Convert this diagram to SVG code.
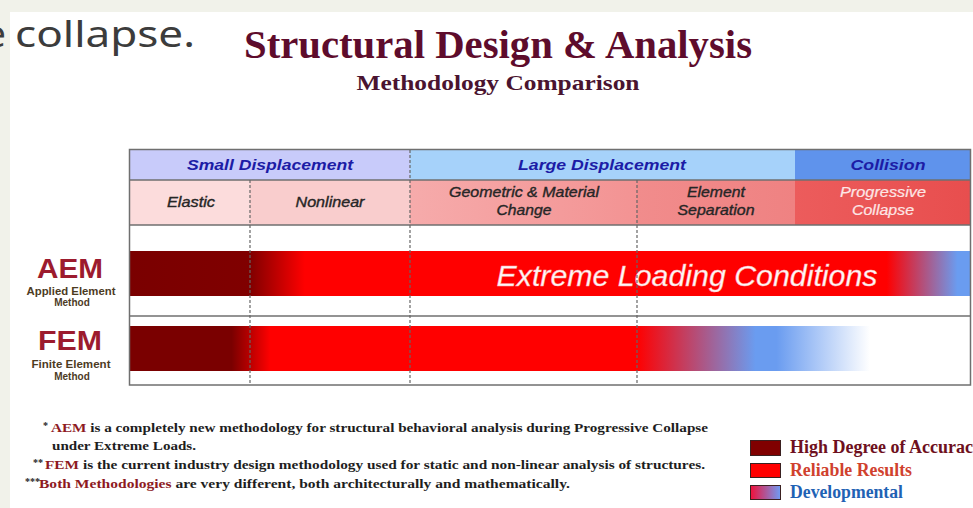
<svg xmlns="http://www.w3.org/2000/svg" width="973" height="508" viewBox="0 0 973 508">
<style>
.hdr{font-family:"Liberation Sans",Arial,sans-serif;font-weight:bold;font-style:italic;font-size:15px;fill:#1c1ca6;text-anchor:middle}
.sub{font-family:"Liberation Sans",Arial,sans-serif;font-style:italic;font-size:14px;fill:#262626;stroke:#262626;stroke-width:0.35;text-anchor:middle}
.subw{fill:#fde6e6;stroke:#fde6e6;stroke-width:0.2}
.big{font-family:"Liberation Sans",Arial,sans-serif;font-weight:bold;font-size:28px;fill:#9c1b2e;text-anchor:middle}
.small{font-family:"Liberation Sans",Arial,sans-serif;font-weight:bold;font-size:10px;fill:#4d3b1f;text-anchor:middle}
.note{font-family:"Liberation Serif","Times New Roman",serif;font-weight:bold;font-size:13.5px;fill:#1e1e1e}
.ast{font-family:"Liberation Serif","Times New Roman",serif;font-weight:bold;font-size:10px;fill:#1e1e1e}
.red{fill:#8e1a1f}
.leg{font-family:"Liberation Serif","Times New Roman",serif;font-weight:bold;font-size:18px}
.grid{stroke:#6f6f6f;stroke-width:1.5;fill:none}
.dash{stroke:#666;stroke-width:1.2;stroke-dasharray:3 2;fill:none}
</style>
<defs>
<linearGradient id="gAEM" gradientUnits="userSpaceOnUse" x1="129" y1="0" x2="970" y2="0">
<stop offset="0" stop-color="#7a0000"/>
<stop offset="0.144" stop-color="#800000"/>
<stop offset="0.209" stop-color="#ff0000"/>
<stop offset="0.901" stop-color="#ff0000"/>
<stop offset="0.985" stop-color="#6a9cf0"/>
<stop offset="1" stop-color="#6a9cf0"/>
</linearGradient>
<linearGradient id="gFEM" gradientUnits="userSpaceOnUse" x1="129" y1="0" x2="970" y2="0">
<stop offset="0" stop-color="#7a0000"/>
<stop offset="0.122" stop-color="#7a0000"/>
<stop offset="0.168" stop-color="#ff0000"/>
<stop offset="0.604" stop-color="#ff0000"/>
<stop offset="0.745" stop-color="#6a9cf0"/>
<stop offset="0.77" stop-color="#6a9cf0"/>
<stop offset="0.881" stop-color="#ffffff"/>
<stop offset="1" stop-color="#ffffff"/>
</linearGradient>
<linearGradient id="gGeo" x1="0" y1="0" x2="1" y2="0">
<stop offset="0" stop-color="#f6abab"/>
<stop offset="1" stop-color="#f39393"/>
</linearGradient>
<linearGradient id="gEl" x1="0" y1="0" x2="1" y2="0">
<stop offset="0" stop-color="#f18c8c"/>
<stop offset="1" stop-color="#ef8282"/>
</linearGradient>
<linearGradient id="gPc" x1="0" y1="0" x2="1" y2="0">
<stop offset="0" stop-color="#ec5c5c"/>
<stop offset="1" stop-color="#e84e4e"/>
</linearGradient>
<linearGradient id="gDev" x1="0" y1="0" x2="1" y2="0">
<stop offset="0" stop-color="#f0103a"/>
<stop offset="1" stop-color="#6f9cf5"/>
</linearGradient>
</defs>

<!-- slide background -->
<rect x="0" y="0" width="973" height="508" fill="#f1f2ea"/>
<rect x="10" y="12" width="963" height="496" fill="#ffffff"/>
<text x="-15" y="47" font-family="'Noto Sans','DejaVu Sans',sans-serif" font-size="37" fill="#3c3c3c">e</text>
<text x="15" y="47" font-family="'Noto Sans','DejaVu Sans',sans-serif" font-size="37" fill="#3c3c3c" textLength="180" lengthAdjust="spacingAndGlyphs">collapse.</text>

<!-- title -->
<g id="title">
<text x="498" y="58" font-family="'Liberation Serif','Times New Roman',serif" font-weight="bold" font-size="39" fill="#5e0c2c" text-anchor="middle" textLength="508" lengthAdjust="spacingAndGlyphs">Structural Design &amp; Analysis</text>
<text x="498" y="90" font-family="'Liberation Serif','Times New Roman',serif" font-weight="bold" font-size="22" fill="#4a1430" text-anchor="middle" textLength="283" lengthAdjust="spacingAndGlyphs">Methodology Comparison</text>
</g>

<!-- header row 1 -->
<g id="hdr-small"><rect x="129" y="150" width="281" height="30" fill="#c8cbfa"/><text class="hdr" x="270" y="170" textLength="166" lengthAdjust="spacingAndGlyphs">Small Displacement</text></g>
<g id="hdr-large"><rect x="410" y="150" width="385" height="30" fill="#a6d2fa"/><text class="hdr" x="602" y="170" textLength="168" lengthAdjust="spacingAndGlyphs">Large Displacement</text></g>
<g id="hdr-collision"><rect x="795" y="150" width="175" height="30" fill="#5f93ec"/><text class="hdr" x="888" y="170" textLength="75" lengthAdjust="spacingAndGlyphs">Collision</text></g>

<!-- header row 2 -->
<g id="sub-elastic"><rect x="129" y="180" width="121" height="45" fill="#fcdcdc"/><text class="sub" x="191" y="207" textLength="48" lengthAdjust="spacingAndGlyphs">Elastic</text></g>
<g id="sub-nonlinear"><rect x="250" y="180" width="160" height="45" fill="#f9cdcd"/><text class="sub" x="330" y="207" textLength="69" lengthAdjust="spacingAndGlyphs">Nonlinear</text></g>
<g id="sub-geometric"><rect x="410" y="180" width="227" height="45" fill="url(#gGeo)"/><text class="sub" x="524" y="197" textLength="150" lengthAdjust="spacingAndGlyphs">Geometric &amp; Material</text><text class="sub" x="524" y="215" textLength="55" lengthAdjust="spacingAndGlyphs">Change</text></g>
<g id="sub-separation"><rect x="637" y="180" width="158" height="45" fill="url(#gEl)"/><text class="sub" x="716" y="197" textLength="58" lengthAdjust="spacingAndGlyphs">Element</text><text class="sub" x="716" y="215" textLength="77" lengthAdjust="spacingAndGlyphs">Separation</text></g>
<g id="sub-progressive"><rect x="795" y="180" width="175" height="45" fill="url(#gPc)"/><text class="sub subw" x="883" y="197" textLength="86" lengthAdjust="spacingAndGlyphs">Progressive</text><text class="sub subw" x="883" y="215" textLength="62" lengthAdjust="spacingAndGlyphs">Collapse</text></g>

<!-- AEM row -->
<g id="aem">
<text class="big" x="70" y="278" textLength="66" lengthAdjust="spacingAndGlyphs">AEM</text>
<text class="small" x="71" y="295" textLength="89" lengthAdjust="spacingAndGlyphs">Applied Element</text>
<text class="small" x="72" y="306">Method</text>
<rect x="129" y="251" width="841" height="45" fill="url(#gAEM)"/>
<text x="687" y="286" font-family="'Liberation Sans',Arial,sans-serif" font-style="italic" font-size="30" fill="#fff6f6" stroke="#f7b0b0" stroke-width="0.4" text-anchor="middle" textLength="381" lengthAdjust="spacingAndGlyphs">Extreme Loading Conditions</text>
</g>

<!-- FEM row -->
<g id="fem">
<text class="big" x="70" y="350" textLength="64" lengthAdjust="spacingAndGlyphs">FEM</text>
<text class="small" x="71" y="368" textLength="79" lengthAdjust="spacingAndGlyphs">Finite Element</text>
<text class="small" x="72" y="380">Method</text>
<rect x="129" y="326" width="841" height="45" fill="url(#gFEM)"/>
</g>

<!-- grid lines -->
<g id="connectors">
<rect class="grid" x="129.5" y="149.5" width="841" height="235.5"/>
<line class="grid" x1="129" y1="180" x2="970" y2="180"/>
<line class="grid" x1="129" y1="225" x2="970" y2="225"/>
<line class="grid" x1="129" y1="316" x2="970" y2="316"/>
<line class="dash" x1="410" y1="150" x2="410" y2="385"/>
<line class="dash" x1="250" y1="180" x2="250" y2="385"/>
<line class="dash" x1="637" y1="180" x2="637" y2="385"/>
</g>

<!-- footnotes -->
<g id="notes">
<text class="ast" x="43" y="429">*</text>
<text class="note" x="51" y="432" textLength="657" lengthAdjust="spacingAndGlyphs"><tspan class="red">AEM</tspan> is a completely new methodology for structural behavioral analysis during Progressive Collapse</text>
<text class="note" x="52" y="450" textLength="144" lengthAdjust="spacingAndGlyphs">under Extreme Loads.</text>
<text class="ast" x="33" y="466">**</text>
<text class="note" x="45" y="469" textLength="660" lengthAdjust="spacingAndGlyphs"><tspan class="red">FEM</tspan> is the current industry design methodology used for static and non-linear analysis of structures.</text>
<text class="ast" x="25" y="485">***</text>
<text class="note" x="39" y="488" textLength="531" lengthAdjust="spacingAndGlyphs"><tspan class="red">Both Methodologies</tspan> are very different, both architecturally and mathematically.</text>
</g>

<!-- legend -->
<g id="legend">
<rect x="750.5" y="440.5" width="30" height="15" fill="#800000" stroke="#3a2020"/>
<text class="leg" x="790" y="453" fill="#6e1020" textLength="192" lengthAdjust="spacingAndGlyphs">High Degree of Accuracy</text>
<rect x="750.5" y="463.5" width="30" height="14" fill="#ff0000" stroke="#3a2020"/>
<text class="leg" x="790" y="476" fill="#d0412e" textLength="122" lengthAdjust="spacingAndGlyphs">Reliable Results</text>
<rect x="750.5" y="485.5" width="30" height="14" fill="url(#gDev)" stroke="#3a2020"/>
<text class="leg" x="790" y="498" fill="#1f62b4" textLength="113" lengthAdjust="spacingAndGlyphs">Developmental</text>
</g>
</svg>
